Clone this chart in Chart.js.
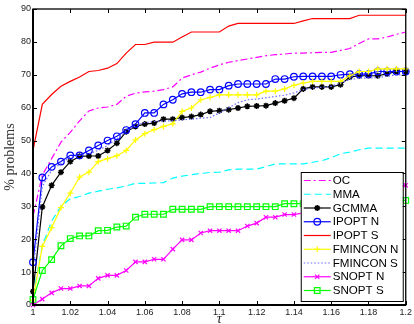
<!DOCTYPE html>
<html>
<head>
<meta charset="utf-8">
<script src="https://cdn.jsdelivr.net/npm/chart.js@4.4.1/dist/chart.umd.min.js"></script>
<style>
  body { margin: 0; background: #fff; }
  #wrap { width: 414px; height: 324px; }
</style>
</head>
<body>
<div id="wrap"><canvas id="chart" width="414" height="324"></canvas></div>
<script>
const tau = [1, 1.005, 1.01, 1.015, 1.02, 1.025, 1.03, 1.035, 1.04, 1.045,
  1.05, 1.055, 1.06, 1.065, 1.07, 1.075, 1.08, 1.085, 1.09, 1.095,
  1.1, 1.105, 1.11, 1.115, 1.12, 1.125, 1.13, 1.135, 1.14, 1.145,
  1.15, 1.155, 1.16, 1.165, 1.17, 1.175, 1.18, 1.185, 1.19, 1.195, 1.2];

const ocValues = [27, 39.5, 44.5, 49.5, 52.5, 56, 59, 59.9, 60.2, 61,
  63.5, 64.4, 64.8, 65, 65.5, 66.3, 69, 70, 70.8, 72,
  73, 73.8, 74.3, 74.8, 75.3, 75.8, 76.1, 76.3, 76.6, 76.6,
  76.7, 76.8, 76.8, 77.4, 78, 79.5, 80.9, 80.9, 81.5, 82.3, 83];
const mmaValues = [3, 18, 25.5, 30, 32.3, 33, 34, 34.6, 35.2, 35.6,
  36.2, 37, 37, 37.1, 37.2, 38.6, 39.2, 39.6, 40, 40.3,
  40.4, 41.1, 41.3, 41.3, 41.3, 42.1, 42.9, 42.9, 42.9, 42.9,
  43.4, 43.9, 44.8, 46, 46.5, 47.2, 47.7, 47.7, 47.7, 47.7, 47.7];
const gcmmaValues = [4.1, 29.8, 36.4, 40.4, 43.6, 45.2, 45.3, 45.3, 47, 49.2,
  52.7, 54.3, 55, 55.3, 56.5, 56.5, 57, 57.3, 57.9, 58.9,
  59.1, 59.4, 59.9, 60.4, 60.5, 60.6, 61.4, 62.1, 62.9, 65.7,
  66.3, 66.3, 66.3, 67, 69.3, 69.7, 69.7, 69.7, 70.3, 71, 71];
const ipoptNValues = [13, 38.8, 42, 43.6, 45.5, 45.5, 47, 48.5, 50, 51.3,
  53.2, 55, 58.4, 58.4, 61, 62.4, 64.2, 64.7, 64.7, 65.5,
  65.5, 66.7, 67.2, 67.2, 67.2, 67.2, 68.7, 68.7, 69.4, 69.5,
  69.5, 69.5, 69.5, 70, 70.2, 70.2, 70.2, 71, 71, 71, 71];
const ipoptSValues = [47, 61, 64, 66.5, 68, 69.3, 71, 71.3, 72, 73.4,
  76.6, 79.2, 79.2, 79.9, 79.9, 79.9, 81.5, 83, 83, 83,
  83, 84.8, 85.6, 85.6, 85.6, 85.6, 85.6, 85.6, 85.6, 86.4,
  87.1, 87.1, 87.1, 87.1, 87.1, 88.1, 88.1, 88.1, 88.1, 88.1, 88.1];
const fminconNValues = [1.5, 17.8, 23.5, 29.6, 34, 38.9, 40.4, 43.6, 44.5, 45.4,
  47, 50.2, 52.1, 53.3, 54.3, 55.1, 58.9, 59.9, 62.4, 63.1,
  63.9, 63.9, 63.9, 63.9, 63.9, 65, 65, 65.7, 66.8, 67.5,
  68, 68, 68, 68, 69.7, 71, 71, 71.8, 71.8, 71.8, 71.8];
const fminconSValues = [10, 36, 41, 43, 45, 45.5, 46, 47, 48.5, 50.5,
  52.8, 54.5, 55.5, 55.8, 56, 56, 56.3, 56.5, 56.8, 57,
  58.4, 60, 61.5, 62.4, 62.6, 63, 63.4, 63.8, 64.5, 65.5,
  66, 66.2, 66.5, 67.5, 68.5, 69, 69, 69.2, 69.5, 70, 70];
const snoptNValues = [0, 1.8, 3.7, 5, 5, 5.8, 5.8, 8.1, 9, 9,
  10.5, 13.1, 13.1, 13.9, 13.9, 17, 19.8, 19.8, 21.9, 22.6,
  22.6, 22.6, 22.6, 24, 24.9, 26.7, 26.7, 27.5, 27.5, 28,
  28.5, 29, 29.5, 30.5, 31.5, 32.5, 33.5, 34.5, 35.5, 36, 36.4];
const snoptSValues = [1.7, 10.5, 13.8, 18, 20.2, 21, 21, 22.6, 22.7, 23.7,
  24, 26.7, 27.6, 27.6, 27.6, 29.1, 29.1, 29.1, 29.1, 29.9,
  29.9, 29.9, 29.9, 29.9, 29.9, 29.9, 29.9, 30.8, 30.8, 30.8,
  30.8, 30.8, 31, 31, 31.2, 31.2, 31.5, 31.5, 31.8, 31.8, 31.8];

const xTicks = [1, 1.02, 1.04, 1.06, 1.08, 1.1, 1.12, 1.14, 1.16, 1.18, 1.2];
const xTickLabels = ["1", "1.02", "1.04", "1.06", "1.08", "1.1", "1.12", "1.14", "1.16", "1.18", "1.2"];
const yTicks = [0, 10, 20, 30, 40, 50, 60, 70, 80, 90];
const yTickLabels = ["0", "10", "20", "30", "40", "50", "60", "70", "80", "90"];

const toPoints = (vals) => tau.map((t, i) => ({ x: t, y: vals[i] }));

function series(label, vals, style) {
  return Object.assign({
    label: label,
    data: toPoints(vals),
    borderWidth: 1.2,
    tension: 0,
    pointRadius: 0,
    pointHoverRadius: 0,
    pointBackgroundColor: "rgba(0,0,0,0)",
    clip: false,
  }, style);
}

const datasets = [
  series("OC", ocValues, { borderColor: "#ff00ff", borderDash: [7, 3, 2, 3] }),
  series("MMA", mmaValues, { borderColor: "#00ffff", borderDash: [7, 4] }),
  series("GCMMA", gcmmaValues, { borderColor: "#000000", pointStyle: "star", pointRadius: 3, pointBorderColor: "#000", pointBorderWidth: 1.5 }),
  series("IPOPT N", ipoptNValues, { borderColor: "#0000ff", pointStyle: "circle", pointRadius: 3.3, pointBorderColor: "#0000ff", pointBorderWidth: 1.2 }),
  series("IPOPT S", ipoptSValues, { borderColor: "#ff0000" }),
  series("FMINCON N", fminconNValues, { borderColor: "#ffff00", pointStyle: "cross", pointRadius: 3, pointBorderColor: "#ffff00", pointBorderWidth: 1.2 }),
  series("FMINCON S", fminconSValues, { borderColor: "#6a6aff", borderDash: [1.5, 2] }),
  series("SNOPT N", snoptNValues, { borderColor: "#ff00ff", pointStyle: "crossRot", pointRadius: 3, pointBorderColor: "#ff00ff", pointBorderWidth: 1.2 }),
  series("SNOPT S", snoptSValues, { borderColor: "#00ff00", pointStyle: "rect", pointRadius: 4, pointBorderColor: "#00ff00", pointBorderWidth: 1.2 }),
];
// later series drawn on top, like the original
datasets.forEach((d, i) => { d.order = 20 - i; });

function drawMarker(c, ds, x, y) {
  const r = ds.pointRadius;
  c.save();
  c.setLineDash([]);
  c.strokeStyle = ds.pointBorderColor;
  c.lineWidth = ds.pointBorderWidth;
  c.beginPath();
  if (ds.pointStyle === "circle") {
    c.arc(x, y, r, 0, Math.PI * 2);
  } else if (ds.pointStyle === "rect") {
    const s = r * Math.SQRT1_2;
    c.rect(x - s, y - s, 2 * s, 2 * s);
  } else {
    if (ds.pointStyle === "cross" || ds.pointStyle === "star") {
      c.moveTo(x - r, y); c.lineTo(x + r, y);
      c.moveTo(x, y - r); c.lineTo(x, y + r);
    }
    if (ds.pointStyle === "crossRot" || ds.pointStyle === "star") {
      const d = r * Math.SQRT1_2;
      c.moveTo(x - d, y - d); c.lineTo(x + d, y + d);
      c.moveTo(x - d, y + d); c.lineTo(x + d, y - d);
    }
  }
  c.stroke();
  c.restore();
}

const axesBox = {
  id: "axesBox",
  afterDatasetsDraw(chart) {
    const c = chart.ctx;
    const a = chart.chartArea;
    const xs = chart.scales.x;
    const ys = chart.scales.y;
    c.save();
    c.strokeStyle = "#000";
    c.lineWidth = 1;
    c.beginPath();
    xTicks.forEach((v) => {
      const px = Math.round(xs.getPixelForValue(v)) + 0.5;
      c.moveTo(px, a.bottom); c.lineTo(px, a.bottom - 4);
      c.moveTo(px, a.top); c.lineTo(px, a.top + 4);
    });
    yTicks.forEach((v) => {
      const py = Math.round(ys.getPixelForValue(v)) + 0.5;
      c.moveTo(a.left, py); c.lineTo(a.left + 4, py);
      c.moveTo(a.right, py); c.lineTo(a.right - 4, py);
    });
    c.stroke();
    c.lineWidth = 1.3;
    c.strokeRect(a.left, a.top, a.right - a.left, a.bottom - a.top);
    c.lineWidth = 2;
    c.beginPath();
    c.moveTo(a.left, a.top); c.lineTo(a.left, a.bottom); c.lineTo(a.right, a.bottom);
    c.stroke();
    c.restore();
  },
};

const legendBox = {
  id: "legendBox",
  afterDraw(chart) {
    const c = chart.ctx;
    const a = chart.chartArea;
    const w = 102, h = 129;
    const left = a.right - 3 - w;
    const top = a.bottom - 4 - h;
    c.save();
    c.fillStyle = "#fff";
    c.fillRect(left, top, w, h);
    c.strokeStyle = "#000";
    c.lineWidth = 1;
    c.strokeRect(left + 0.5, top + 0.5, w, h);
    chart.data.datasets.forEach((ds, i) => {
      const y = top + 8.5 + i * 13.75;
      c.setLineDash(ds.borderDash || []);
      c.strokeStyle = ds.borderColor;
      c.lineWidth = ds.borderWidth;
      c.beginPath();
      c.moveTo(left + 3, y); c.lineTo(left + 30, y);
      c.stroke();
      c.setLineDash([]);
      if (ds.pointRadius > 0) drawMarker(c, ds, left + 16.5, y);
      c.fillStyle = "#000";
      c.font = '11.6px "Liberation Sans", Arial, sans-serif';
      c.textAlign = "left";
      c.textBaseline = "middle";
      c.fillText(ds.label, left + 32, y + 0.5);
    });
    c.restore();
  },
};

const tickFont = { family: '"Liberation Sans", Arial, sans-serif', size: 9 };

const ctx = document.getElementById("chart").getContext("2d");
const chart = new Chart(ctx, {
  type: "line",
  data: { datasets: datasets },
  options: {
    animation: false,
    responsive: false,
    devicePixelRatio: 1,
    events: [],
    layout: { padding: { top: 9, right: 7, left: 0, bottom: 0 } },
    plugins: { legend: { display: false }, tooltip: { enabled: false } },
    scales: {
      x: {
        type: "linear",
        min: 1,
        max: 1.2,
        afterBuildTicks: (s) => { s.ticks = xTicks.map((v) => ({ value: v })); },
        afterFit: (s) => { s.height = 19; },
        ticks: {
          callback: (v, i) => xTickLabels[i],
          autoSkip: false,
          maxRotation: 0,
          padding: 2,
          font: tickFont,
          color: "#222",
        },
        grid: { display: false, drawTicks: false },
        border: { display: false },
        title: {
          display: true,
          text: "τ",
          color: "#222",
          padding: { top: 0, bottom: -2 },
          font: { family: '"Liberation Serif", "Times New Roman", serif', size: 14, style: "italic", lineHeight: 1 },
        },
      },
      y: {
        min: 0,
        max: 90,
        afterBuildTicks: (s) => { s.ticks = yTicks.map((v) => ({ value: v })); },
        afterFit: (s) => { s.width = 33; },
        ticks: {
          callback: (v, i) => yTickLabels[i],
          autoSkip: false,
          padding: 2,
          font: tickFont,
          color: "#222",
        },
        grid: { display: false, drawTicks: false },
        border: { display: false },
        title: {
          display: true,
          text: "% problems",
          color: "#333",
          padding: { top: 2, bottom: 0 },
          font: { family: '"Liberation Serif", "Times New Roman", serif', size: 14 },
        },
      },
    },
  },
  plugins: [axesBox, legendBox],
});
</script>
</body>
</html>
